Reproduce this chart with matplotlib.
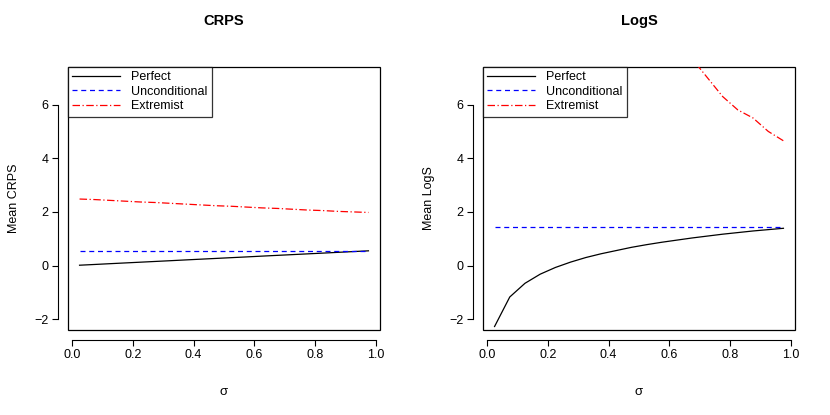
import matplotlib
matplotlib.use("Agg")
import matplotlib.pyplot as plt

plt.rcParams["font.family"] = "Liberation Sans"

sigma = [0.025,0.075,0.125,0.175,0.225,0.275,0.325,0.375,0.425,0.475,
         0.525,0.575,0.625,0.675,0.725,0.775,0.825,0.875,0.925,0.975]
crps_perfect = [0.014,0.042,0.071,0.099,0.127,0.155,0.183,0.212,0.240,0.268,
                0.296,0.324,0.353,0.381,0.409,0.437,0.465,0.494,0.522,0.550]
crps_uncond = [0.56]*20
crps_extrem = [2.48,2.46,2.43,2.40,2.37,2.35,2.32,2.29,2.26,2.23,
               2.21,2.18,2.15,2.13,2.10,2.07,2.05,2.02,2.00,1.98]
logs_perfect = [-2.27,-1.17,-0.66,-0.32,-0.07,0.13,0.30,0.44,0.56,0.68,
                0.78,0.87,0.95,1.03,1.10,1.17,1.23,1.29,1.34,1.39]
logs_uncond = [1.42]*20
logs_extrem = [90,40,25,19,15.5,13.5,12.0,11.0,10.3,9.7,
               9.1,8.6,8.2,7.7,7.0,6.3,5.8,5.5,5.0,4.65]

fig = plt.figure(figsize=(8.3,4.15), dpi=100)
W, H = 830, 415
panels = [(68, "CRPS", "Mean CRPS", crps_perfect, crps_uncond, crps_extrem),
          (483, "LogS", "Mean LogS", logs_perfect, logs_uncond, logs_extrem)]
for x0, title, ylab, p, u, e in panels:
    ax = fig.add_axes([x0/W, 1-330/H, 312/W, 263/H])
    ax.plot(sigma, p, color="black", lw=0.9, label="Perfect")
    ax.plot(sigma, u, color="blue", lw=0.9, ls=(0,(4,3)), label="Unconditional")
    ax.plot(sigma, e, color="red", lw=0.9, ls=(0,(6,2,1,2)), label="Extremist")
    ax.set_xlim(-0.013, 1.013)
    ax.set_ylim(-2.4, 7.4)
    ax.set_xticks([0,0.2,0.4,0.6,0.8,1.0])
    ax.set_xticklabels(["0.0","0.2","0.4","0.6","0.8","1.0"])
    ax.set_yticks([-2,0,2,4,6])
    for t in ax.get_yticklabels():
        t.set_rotation(90); t.set_va("center")
    ax.tick_params(labelsize=9, length=4, pad=3)
    ax.spines['bottom'].set_bounds(0,1)
    ax.spines['left'].set_bounds(-2,6)
    ax.spines['bottom'].set_position(('outward', 7))
    ax.spines['left'].set_position(('outward', 7))
    ax.spines['top'].set_visible(False); ax.spines['right'].set_visible(False)
    ax.add_patch(plt.Rectangle((0,0),1,1,transform=ax.transAxes,fill=False,lw=0.9,clip_on=False))
    ax.set_title(title, fontsize=10.5, fontweight="bold", pad=30)
    ax.set_ylabel(ylab, fontsize=9, labelpad=10)
    ax.set_xlabel("σ", fontsize=9.5, labelpad=18)
    leg = ax.legend(loc="upper left", fontsize=9, frameon=True, fancybox=False,
                    borderaxespad=0, handlelength=3.8, borderpad=0.35, labelspacing=0.2,
                    handletextpad=0.9)
    leg.get_frame().set_edgecolor("black"); leg.get_frame().set_linewidth(0.9)
fig.savefig("out.png", dpi=100)
